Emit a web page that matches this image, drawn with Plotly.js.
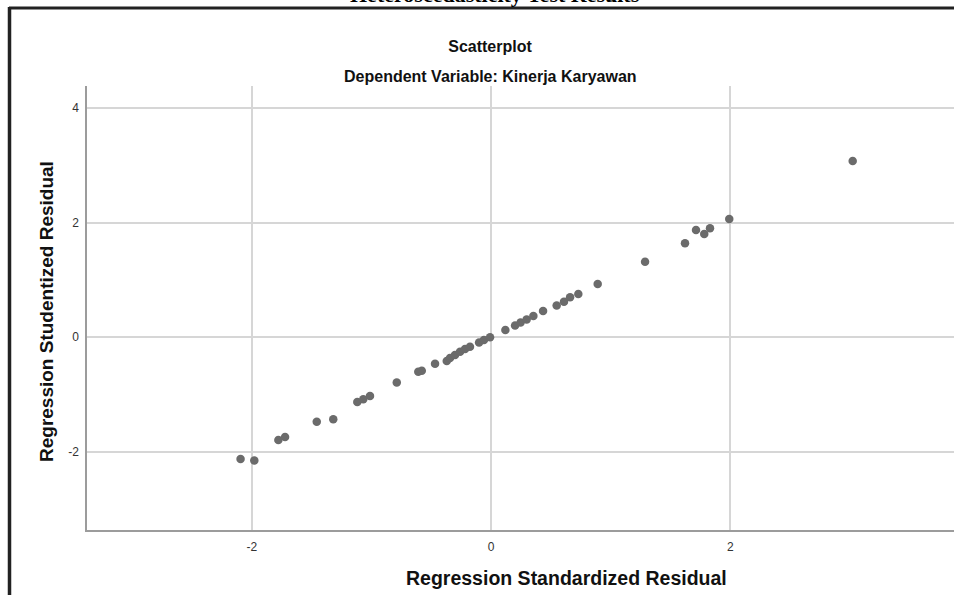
<!DOCTYPE html>
<html>
<head>
<meta charset="utf-8">
<script src="https://cdn.plot.ly/plotly-3.0.1.min.js"></script>
<style>html,body{margin:0;padding:0;background:#fff;}#chart{width:954px;height:595px;}</style>
</head>
<body>
<div id="chart"></div>
<script>
// Regression Standardized Residual (x) vs Regression Studentized Residual (y)
const standardizedResidual = [
  -2.094, -1.979, -1.778, -1.722, -1.457, -1.319, -1.118, -1.068, -1.012, -0.788,
  -0.608, -0.579, -0.468, -0.370, -0.343, -0.301, -0.259, -0.217, -0.176, -0.100,
  -0.059, -0.008, 0.120, 0.201, 0.247, 0.298, 0.354, 0.435, 0.549, 0.610,
  0.661, 0.730, 0.892, 1.288, 1.622, 1.714, 1.783, 1.831, 1.992, 3.024
];
const studentizedResidual = [
  -2.129, -2.155, -1.797, -1.745, -1.478, -1.434, -1.134, -1.085, -1.029, -0.793,
  -0.605, -0.587, -0.465, -0.418, -0.365, -0.313, -0.255, -0.208, -0.168, -0.095,
  -0.051, -0.004, 0.123, 0.202, 0.254, 0.307, 0.368, 0.455, 0.551, 0.618,
  0.694, 0.752, 0.927, 1.316, 1.637, 1.870, 1.800, 1.899, 2.062, 3.074
];
const xTicks = [-2, 0, 2];
const yTicks = [-2, 0, 2, 4];
const chartTitle = 'Scatterplot';
const chartSubtitle = 'Dependent Variable: Kinerja Karyawan';
const xTitle = 'Regression Standardized Residual';
const yTitle = 'Regression Studentized Residual';
const pageHeading = 'Heteroscedasticity Test Results';

const sans = 'Liberation Sans, Arial, sans-serif';

const trace = {
  type: 'scatter',
  mode: 'markers',
  x: standardizedResidual,
  y: studentizedResidual,
  marker: {color: '#6b6b6b', size: 8.5, line: {width: 0}},
  hoverinfo: 'x+y',
  showlegend: false
};

const frameColor = '#222222';
const layout = {
  width: 954,
  height: 595,
  margin: {l: 87, r: 0, t: 86, b: 65, pad: 0},
  paper_bgcolor: '#ffffff',
  plot_bgcolor: '#ffffff',
  showlegend: false,
  title: {
    text: chartTitle,
    x: 490 / 954, xanchor: 'center', xref: 'container',
    y: 1 - 46 / 595, yanchor: 'middle', yref: 'container',
    font: {family: sans, size: 16, color: '#111', weight: 'bold'}
  },
  xaxis: {
    range: [-3.378, 3.871],
    tickmode: 'array', tickvals: xTicks, ticktext: xTicks.map(String),
    showgrid: true, gridcolor: '#d6d6d6', gridwidth: 1.5,
    zeroline: false,
    showline: true, linecolor: '#9c9c9c', linewidth: 1.5,
    ticks: '', ticklabelstandoff: 5,
    tickfont: {family: sans, size: 12, color: '#333'},
    fixedrange: true
  },
  yaxis: {
    range: [-3.369, 4.384],
    tickmode: 'array', tickvals: yTicks, ticktext: yTicks.map(String),
    showgrid: true, gridcolor: '#d6d6d6', gridwidth: 1.5,
    zeroline: false,
    showline: true, linecolor: '#9c9c9c', linewidth: 1.5,
    ticks: '', ticklabelstandoff: 4,
    tickfont: {family: sans, size: 12, color: '#333'},
    fixedrange: true
  },
  annotations: [
    {
      text: chartSubtitle, showarrow: false,
      xref: 'paper', yref: 'paper', x: (490 - 87) / 867, y: (530 - 76) / 444,
      xanchor: 'center', yanchor: 'middle',
      font: {family: sans, size: 16, color: '#111', weight: 'bold'}
    },
    {
      text: xTitle, showarrow: false,
      xref: 'paper', yref: 'paper', x: (566 - 87) / 867, y: (530 - 578) / 444,
      xanchor: 'center', yanchor: 'middle',
      font: {family: sans, size: 19.5, color: '#111', weight: 'bold'}
    },
    {
      text: yTitle, showarrow: false, textangle: -90,
      xref: 'paper', yref: 'paper', x: (46 - 87) / 867, y: (530 - 312) / 444,
      xanchor: 'center', yanchor: 'middle',
      font: {family: sans, size: 19, color: '#111', weight: 'bold'}
    },
    {
      text: pageHeading, showarrow: false,
      xref: 'paper', yref: 'paper', x: (495 - 87) / 867, y: (530 + 5.5) / 444,
      xanchor: 'center', yanchor: 'middle',
      font: {family: 'Liberation Serif, Times New Roman, serif', size: 22, color: '#000', weight: 'bold'}
    }
  ],
  shapes: [
    {type: 'line', xref: 'paper', yref: 'paper',
     x0: (9 - 87) / 867, x1: (960 - 87) / 867, y0: (530 - 8) / 444, y1: (530 - 8) / 444,
     line: {color: frameColor, width: 3}},
    {type: 'line', xref: 'paper', yref: 'paper',
     x0: (9.5 - 87) / 867, x1: (9.5 - 87) / 867, y0: (530 - 7) / 444, y1: (530 - 600) / 444,
     line: {color: frameColor, width: 3.5}}
  ]
};

Plotly.newPlot('chart', [trace], layout, {displayModeBar: false, staticPlot: false, responsive: false});
</script>
</body>
</html>
